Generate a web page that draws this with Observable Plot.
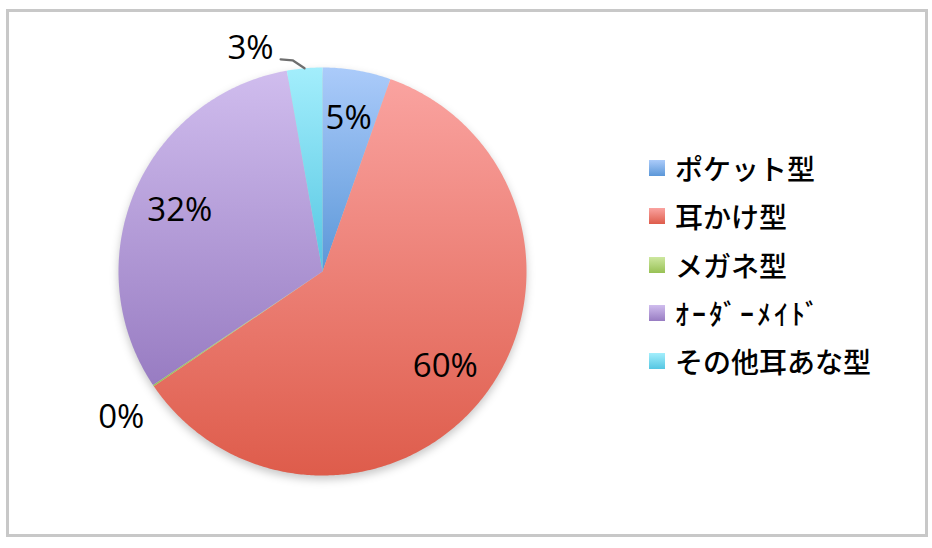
<!DOCTYPE html>
<html><head><meta charset="utf-8">
<script src="https://cdn.jsdelivr.net/npm/d3@7"></script>
<script src="https://cdn.jsdelivr.net/npm/@observablehq/plot@0.6"></script>
<style>
html,body{margin:0;padding:0;background:#fff;}
#wrap{position:relative;width:932px;height:548px;overflow:hidden;background:#fff;}
#frame{position:absolute;left:6px;top:9px;width:916px;height:522px;border:3px solid #c8c8c8;}
#chart{position:absolute;left:0;top:0;}
#legend{position:absolute;left:649px;top:144px;font-family:"Noto Sans CJK JP";font-size:28px;font-weight:500;color:#000;}
.item{display:flex;align-items:center;height:48.3px;white-space:nowrap;}
.sw{width:16px;height:16px;margin-right:10px;flex:none;}
</style></head>
<body>
<div id="wrap"><div id="frame"></div><div id="chart"></div><div id="legend"></div></div>
<script>
const categories = ["ポケット型", "耳かけ型", "メガネ型", "ｵｰﾀﾞｰﾒｲﾄﾞ", "その他耳あな型"];
const shares = [5.4, 60.1, 0.1, 31.6, 2.8];
const colorTop = ["#abcbfa", "#faa3a0", "#cde79f", "#d0bdee", "#a3eefc"];
const colorBottom = ["#5b97d8", "#de5c4b", "#98c155", "#987cc2", "#55c6e2"];

const total = d3.sum(shares);
let acc = 0;
const slices = categories.map((c, i) => {
  const a0 = acc / total * 2 * Math.PI;
  acc += shares[i];
  const a1 = acc / total * 2 * Math.PI;
  return {c, i, a0, a1, mid: (a0 + a1) / 2, v: shares[i], label: d3.format(".0f")(shares[i]) + "%"};
});
const pts = slices.flatMap(s => {
  const n = Math.max(2, Math.ceil((s.a1 - s.a0) / 0.01));
  const arr = [{c: s.c, x: 0, y: 0}];
  for (let k = 0; k <= n; k++) {
    const a = s.a0 + (s.a1 - s.a0) * k / n;
    arr.push({c: s.c, x: Math.sin(a), y: Math.cos(a)});
  }
  arr.push({c: s.c, x: 0, y: 0});
  return arr;
});

const R = 204; // pixels per unit
const inside = slices.filter(s => s.v >= 4).map(s => ({label: s.label, x: 0.76 * Math.sin(s.mid), y: 0.76 * Math.cos(s.mid)}));
const zeroLab = slices.filter(s => s.v < 1).map(s => ({label: s.label, x: 1.22 * Math.sin(s.mid), y: 1.22 * Math.cos(s.mid)}));
const small = slices.filter(s => s.v >= 1 && s.v < 4);
const leader = small.flatMap(s => {
  const ex = Math.sin(s.mid), ey = Math.cos(s.mid);
  const bx = ex - 12 / R, by = ey + 8 / R;
  const fx = bx - 12 / R, fy = by + 1 / R;
  return [{k: s.c, x: ex, y: ey}, {k: s.c, x: bx, y: by}, {k: s.c, x: fx, y: fy}];
});
const smallLab = small.map(s => {
  const ex = Math.sin(s.mid), ey = Math.cos(s.mid);
  return {label: s.label, x: ex - 31 / R, y: ey + 19.5 / R};
});

const font = {fontFamily: "Open Sans", fontSize: 33, fill: "#000"};
const chart = Plot.plot({
  width: 932, height: 548,
  marginLeft: 118, marginRight: 406, marginTop: 67, marginBottom: 73,
  x: {domain: [-1, 1], axis: null},
  y: {domain: [-1, 1], axis: null},
  color: {type: "ordinal", domain: categories, range: categories.map((_, i) => `url(#pg${i})`)},
  style: {background: "transparent", overflow: "visible"},
  marks: [
    Plot.line(pts, {x: "x", y: "y", z: "c", fill: "c", stroke: "none", curve: "linear"}),
    Plot.line(leader, {x: "x", y: "y", z: "k", stroke: "#6e6e6e", strokeWidth: 2.2}),
    Plot.text(inside, {x: "x", y: "y", text: "label", ...font}),
    Plot.text(zeroLab, {x: "x", y: "y", text: "label", dx: 5, dy: 7, ...font}),
    Plot.text(smallLab, {x: "x", y: "y", text: "label", textAnchor: "end", ...font})
  ]
});
const svg = d3.select(chart.tagName.toLowerCase() === "svg" ? chart : chart.querySelector("svg"));
const defs = svg.insert("defs", ":first-child");
categories.forEach((_, i) => {
  const g = defs.append("linearGradient").attr("id", `pg${i}`).attr("x1", 0).attr("y1", 0).attr("x2", 0).attr("y2", 1);
  g.append("stop").attr("offset", "0%").attr("stop-color", colorTop[i]);
  g.append("stop").attr("offset", "100%").attr("stop-color", colorBottom[i]);
});
const lineG = svg.select('g[aria-label="line"]').node();
if (lineG) lineG.style.filter = "drop-shadow(0px 4px 4px rgba(0,0,0,0.22))";
document.getElementById("chart").appendChild(chart);

const legend = d3.select("#legend");
categories.forEach((c, i) => {
  const it = legend.append("div").attr("class", "item");
  it.append("div").attr("class", "sw").style("background", `linear-gradient(${colorTop[i]}, ${colorBottom[i]})`);
  it.append("span").text(c).style("letter-spacing", /[\uFF61-\uFF9F]/.test(c) ? "3px" : null);
});
</script>
</body></html>
